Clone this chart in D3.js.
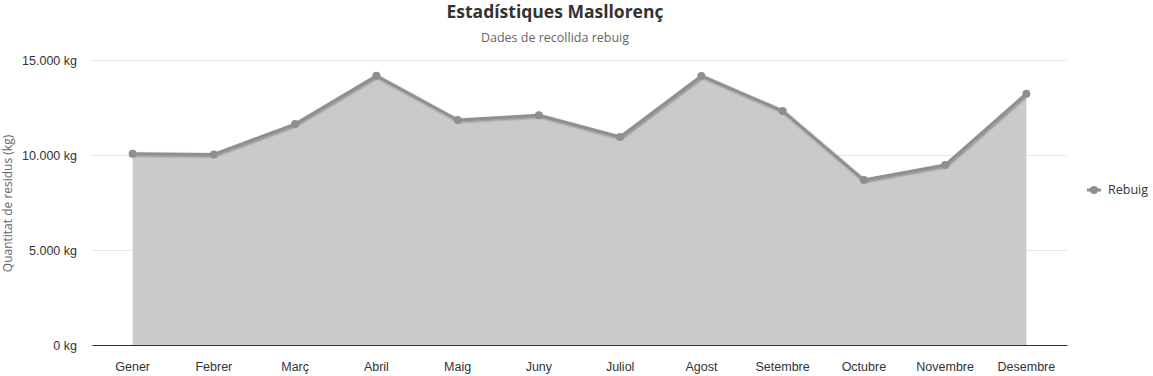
<!DOCTYPE html>
<html>
<head>
<meta charset="utf-8">
<script src="https://cdn.jsdelivr.net/npm/d3@7"></script>
<style>
  body { margin: 0; background: #fff; font-family: "Open Sans", "Noto Sans", sans-serif; }
  .grid line { stroke: #e6e6e6; }
  .grid path { display: none; }
  .axis text { fill: #333; font-size: 12.5px; }
</style>
</head>
<body>
<div id="chart"></div>
<script>
const width = 1153;
const height = 376;
const margin = { top: 60, right: 86, bottom: 31, left: 92 };

const months = ["Gener", "Febrer", "Març", "Abril", "Maig", "Juny", "Juliol", "Agost", "Setembre", "Octubre", "Novembre", "Desembre"];
const rebuig = [10070, 10030, 11630, 14170, 11840, 12090, 10950, 14160, 12320, 8680, 9470, 13230];
const yTicks = [0, 5000, 10000, 15000];

const svg = d3.select("#chart").append("svg").attr("width", width).attr("height", height);

const defs = svg.append("defs");
const f = defs.append("filter").attr("id", "shadow").attr("x", "-5%").attr("y", "-20%").attr("width", "110%").attr("height", "140%");
f.append("feDropShadow").attr("dx", 1).attr("dy", 1).attr("stdDeviation", 1.3).attr("flood-color", "#000").attr("flood-opacity", 0.35);

const plotWidth = width - margin.left - margin.right;
const plotHeight = height - margin.top - margin.bottom;
const plot = svg.append("g").attr("transform", `translate(${margin.left},${margin.top})`);

const x = d3.scaleBand().domain(months).range([0, plotWidth]);
const y = d3.scaleLinear().domain([0, 15000]).range([plotHeight, 0]);
const cx = (d, i) => x(months[i]) + x.bandwidth() / 2;

const fmt = (v) => d3.format(",")(v).replace(/,/g, ".") + " kg";

plot.append("g").attr("class", "grid")
  .call(d3.axisLeft(y).tickValues(yTicks).tickSize(-plotWidth).tickFormat(""));

plot.append("g").attr("class", "axis")
  .call(d3.axisLeft(y).tickValues(yTicks).tickSize(0).tickPadding(15).tickFormat(fmt))
  .call((g) => g.select(".domain").remove());

const data = rebuig.map((v, i) => ({ m: months[i], v }));

plot.append("path")
  .datum(data)
  .attr("fill", "#cacaca")
  .attr("d", d3.area().x((d, i) => cx(d, i)).y0(y(0)).y1((d) => y(d.v)));

plot.append("path")
  .datum(data)
  .attr("fill", "none")
  .attr("stroke", "#8f8f8f")
  .attr("stroke-width", 3)
  .attr("stroke-linejoin", "round")
  .attr("filter", "url(#shadow)")
  .attr("d", d3.line().x((d, i) => cx(d, i)).y((d) => y(d.v)));

plot.selectAll("circle.pt")
  .data(data)
  .join("circle")
  .attr("class", "pt")
  .attr("cx", (d, i) => cx(d, i))
  .attr("cy", (d) => y(d.v))
  .attr("r", 4)
  .attr("fill", "#8f8f8f");

const xAxis = plot.append("g").attr("class", "axis")
  .attr("transform", `translate(0,${plotHeight})`)
  .call(d3.axisBottom(x).tickSize(0).tickPadding(17));
xAxis.select(".domain").attr("stroke", "#333").attr("stroke-width", 1);

svg.append("text")
  .attr("x", 555).attr("y", 18)
  .attr("text-anchor", "middle")
  .attr("font-size", 17.5).attr("font-weight", 700).attr("fill", "#333")
  .text("Estadístiques Masllorenç");

svg.append("text")
  .attr("x", 555).attr("y", 42)
  .attr("text-anchor", "middle")
  .attr("font-size", 12.5).attr("fill", "#666")
  .text("Dades de recollida rebuig");

svg.append("text")
  .attr("transform", `translate(12,${margin.top + plotHeight / 2 + 1}) rotate(-90)`)
  .attr("text-anchor", "middle")
  .attr("font-size", 12).attr("fill", "#666")
  .text("Quantitat de residus (kg)");

const legend = svg.append("g").attr("transform", "translate(1087,190)");
legend.append("line").attr("x1", 0).attr("x2", 14).attr("stroke", "#8f8f8f").attr("stroke-width", 3);
legend.append("circle").attr("cx", 7).attr("r", 4).attr("fill", "#8f8f8f");
legend.append("text").attr("x", 21).attr("y", 4).attr("font-size", 12.5).attr("fill", "#333").text("Rebuig");
</script>
</body>
</html>
